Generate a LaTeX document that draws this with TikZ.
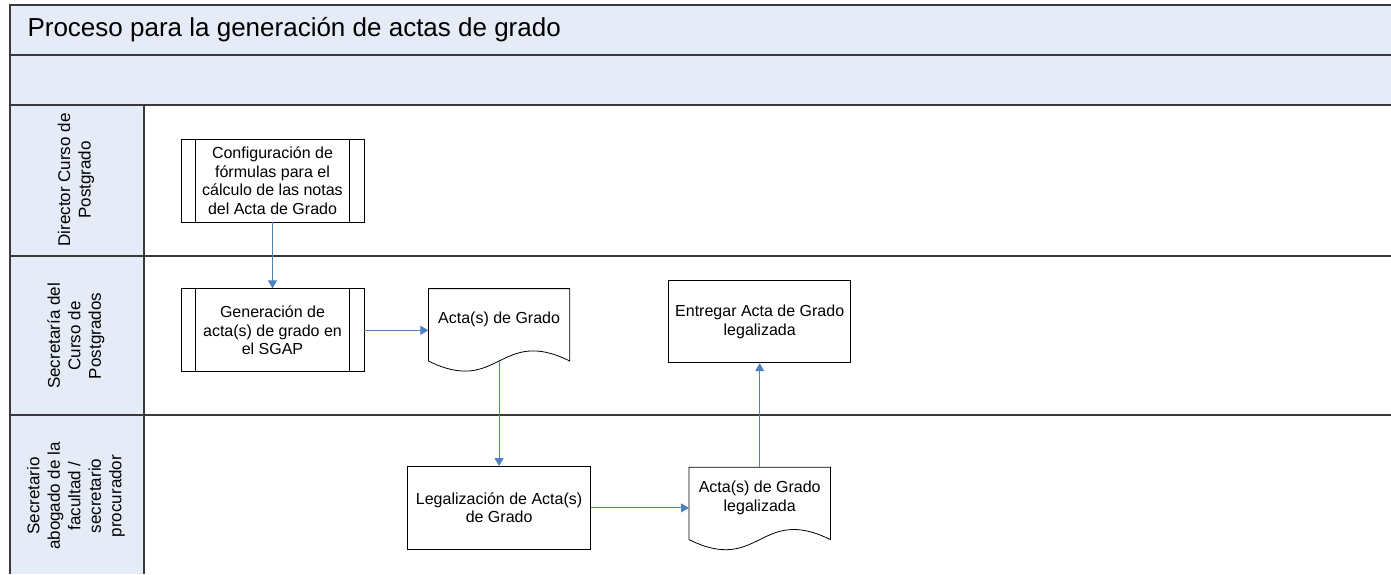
\documentclass[tikz,border=0pt]{standalone}
\usepackage{fontspec}
\setmainfont{Liberation Sans}
\usetikzlibrary{arrows.meta,positioning}
\definecolor{headbg}{HTML}{E6ECF7}
\definecolor{laneline}{HTML}{3A3A3A}
\definecolor{flowblue}{HTML}{4F81BD}

\begin{document}
\begin{tikzpicture}[x=1pt, y=-1pt, >={Triangle[length=8pt,width=9pt]},
    font=\fontsize{16}{18.5}\selectfont,
    lane/.style={draw=laneline, line width=1.3pt},
    lanelabel/.style={rotate=90, align=center, font=\fontsize{17}{20.5}\selectfont},
    task/.style={draw, line width=0.8pt, fill=white, minimum width=183pt, minimum height=83pt, align=center, inner sep=2pt},
    docbox/.style={minimum width=141pt, minimum height=72pt, align=center, inner sep=2pt, text depth=14pt},
    flow/.style={->, draw=flowblue, fill=flowblue, line width=0.9pt}]
  \useasboundingbox (0,0) rectangle (1391,574);
  % header bands and lane labels column
  \fill[headbg] (10,5) rectangle (1391,105);
  \fill[headbg] (10,105) rectangle (144,574);
  \draw[lane] (1391,5) -- (10,5) -- (10,574);
  \draw[lane] (10,55) -- (1391,55);
  \draw[lane] (10,105) -- (1391,105);
  \draw[lane] (10,256) -- (1391,256);
  \draw[lane] (10,415) -- (1391,415);
  \draw[lane] (144,105) -- (144,574);
  \node[anchor=west, font=\fontsize{26}{31}\selectfont] (title) at (24,30)
    {Proceso para la generación de actas de grado};
  \node[lanelabel] (director) at (76,180) {Director Curso de\\Postgrado};
  \node[lanelabel] (secretaria) at (76,336) {Secretaría del\\Curso de\\Postgrados};
  \node[lanelabel] (abogado) at (76,496) {Secretario\\abogado de la\\facultad /\\secretario\\procurador};

  % steps
  \node[task] (cfg) at (272.5,180.5)
    {Configuración de\\fórmulas para el\\cálculo de las notas\\del Acta de Grado};
  \node[task, below=66pt of cfg] (gen)
    {Generación de\\acta(s) de grado en\\el SGAP};
  \node[docbox, right=64pt of gen, yshift=5.5pt] (acta) {Acta(s) de Grado};
  \node[task, below=105pt of acta] (legal)
    {Legalización de Acta(s)\\de Grado};
  \node[docbox, right=98pt of legal, yshift=4.5pt] (actalegal)
    {Acta(s) de Grado\\legalizada};
  \node[task, above=104pt of actalegal, minimum width=182pt, minimum height=82pt] (entregar)
    {Entregar Acta de Grado\\legalizada};

  % subprocess bars
  \foreach \n in {cfg,gen} {
    \draw[line width=0.8pt] ([xshift=15pt]\n.north west) -- ([xshift=15pt]\n.south west);
    \draw[line width=0.8pt] ([xshift=-15pt]\n.north east) -- ([xshift=-15pt]\n.south east);
  }
  % document outlines
  \foreach \n in {acta,actalegal}
    \draw[line width=0.8pt] (\n.south west) -- (\n.north west) -- (\n.north east) -- (\n.south east)
      .. controls +(-70.5,-35) and +(70.5,35) .. (\n.south west);

  \draw[flow] (cfg) -- (gen);
  \draw[flow] (gen.east) -- (gen.east -| acta.west);
  \draw[flow] (acta) -- (legal);
  \draw[flow] (legal.east) -- (legal.east -| actalegal.west);
  \draw[flow] (actalegal) -- (entregar);
\end{tikzpicture}
\end{document}
